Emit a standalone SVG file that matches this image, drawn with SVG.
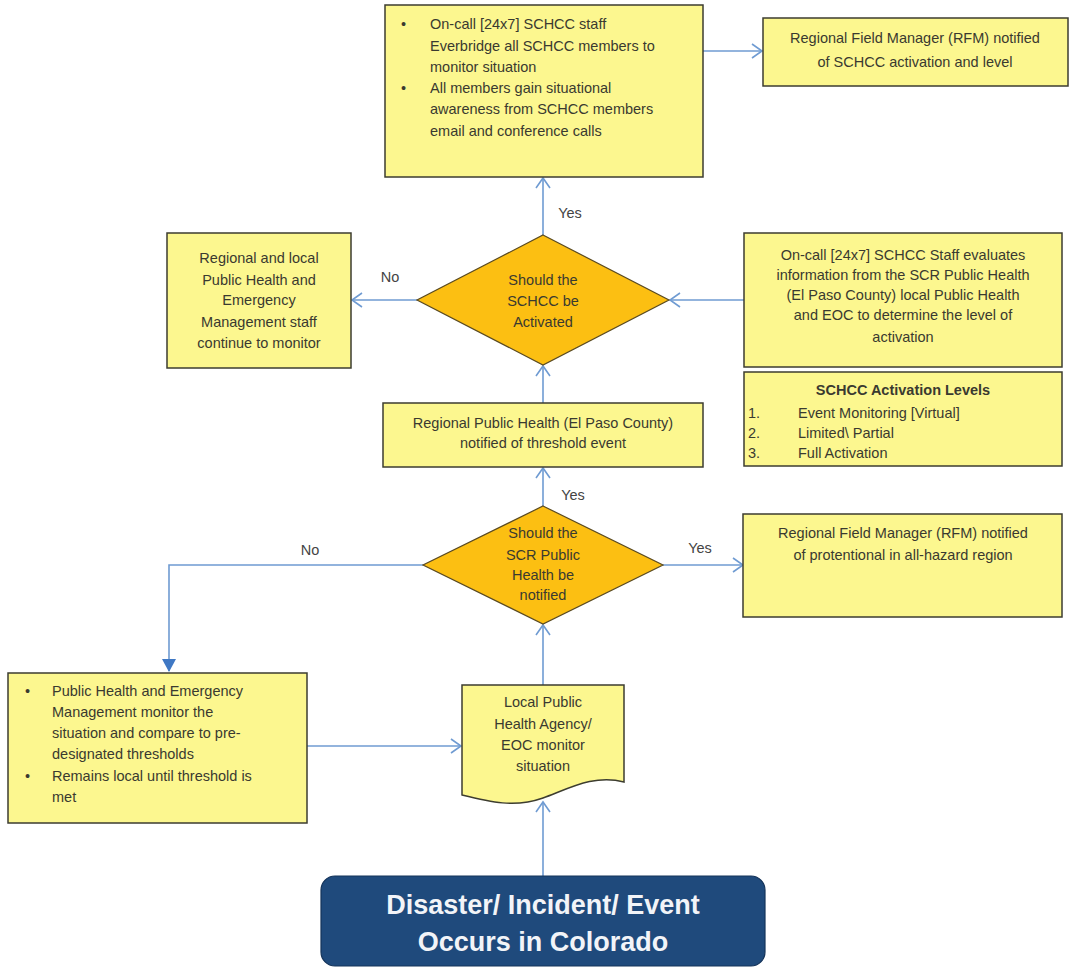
<svg xmlns="http://www.w3.org/2000/svg" width="1072" height="969" viewBox="0 0 1072 969">
<style>
.box{fill:#fcf78f;stroke:#3d3d30;stroke-width:1.5}
.dia{fill:#fcbf12;stroke:#5a4a20;stroke-width:1.2}
.t{font-family:"Liberation Sans",Arial,sans-serif;font-size:14.5px;fill:#3a3a30}
.c{text-anchor:middle}
.b{font-weight:bold}
.lab{font-family:"Liberation Sans",Arial,sans-serif;font-size:14.5px;fill:#444;text-anchor:middle}
.con{fill:none;stroke:#6f9bd2;stroke-width:1.6}
.big{font-family:"Liberation Sans",Arial,sans-serif;font-size:27px;font-weight:bold;fill:#f2f4f8;text-anchor:middle}
</style>
<defs>
<marker id="open" markerUnits="userSpaceOnUse" markerWidth="14" markerHeight="16" refX="11" refY="8" orient="auto" viewBox="0 0 14 16">
<path d="M1,1 L11,8 L1,15" fill="none" stroke="#6f9bd2" stroke-width="1.6"/>
</marker>
<marker id="fill" markerUnits="userSpaceOnUse" markerWidth="14" markerHeight="14" refX="12" refY="7" orient="auto" viewBox="0 0 14 14">
<path d="M0,0 L13,7 L0,14 Z" fill="#3f78c4"/>
</marker>
</defs>

<g id="connectors">
<line class="con" x1="543" y1="235" x2="543" y2="178" marker-end="url(#open)"/>
<line class="con" x1="703" y1="51" x2="762" y2="51" marker-end="url(#open)"/>
<line class="con" x1="417" y1="300" x2="352" y2="300" marker-end="url(#open)"/>
<line class="con" x1="744" y1="300" x2="670" y2="300" marker-end="url(#open)"/>
<line class="con" x1="543" y1="403" x2="543" y2="366" marker-end="url(#open)"/>
<line class="con" x1="543" y1="506" x2="543" y2="468" marker-end="url(#open)"/>
<line class="con" x1="663" y1="565" x2="743" y2="565" marker-end="url(#open)"/>
<path class="con" d="M423,565 H169 V671" marker-end="url(#fill)"/>
<line class="con" x1="307" y1="746" x2="461" y2="746" marker-end="url(#open)"/>
<line class="con" x1="543" y1="685" x2="543" y2="625" marker-end="url(#open)"/>
<line class="con" x1="543" y1="876" x2="543" y2="802" marker-end="url(#open)"/>
<text class="lab" x="570" y="218">Yes</text>
<text class="lab" x="390" y="282">No</text>
<text class="lab" x="573" y="500">Yes</text>
<text class="lab" x="700" y="553">Yes</text>
<text class="lab" x="310" y="555">No</text>
</g>

<g id="n-schcc-staff">
<rect class="box" x="385" y="5" width="318" height="172"/>
<text class="t" x="401" y="29">•</text>
<text class="t" x="430" y="29">On-call [24x7] SCHCC staff</text>
<text class="t" x="430" y="51">Everbridge all SCHCC members to</text>
<text class="t" x="430" y="72">monitor situation</text>
<text class="t" x="401" y="93">•</text>
<text class="t" x="430" y="93">All members gain situational</text>
<text class="t" x="430" y="114">awareness from SCHCC members</text>
<text class="t" x="430" y="136">email and conference calls</text>
</g>

<g id="n-rfm-activation">
<rect class="box" x="763" y="18" width="305" height="68"/>
<text class="t c" x="915" y="43">Regional Field Manager (RFM) notified</text>
<text class="t c" x="915" y="67">of SCHCC activation and level</text>
</g>

<g id="n-continue-monitor">
<rect class="box" x="167" y="233" width="184" height="135"/>
<text class="t c" x="259" y="263">Regional and local</text>
<text class="t c" x="259" y="285">Public Health and</text>
<text class="t c" x="259" y="305">Emergency</text>
<text class="t c" x="259" y="327">Management staff</text>
<text class="t c" x="259" y="348">continue to monitor</text>
</g>

<g id="n-dec-schcc">
<polygon class="dia" points="543,235 669,300 543,365 417,300"/>
<text class="t c" x="543" y="285">Should the</text>
<text class="t c" x="543" y="306">SCHCC be</text>
<text class="t c" x="543" y="327">Activated</text>
</g>

<g id="n-evaluate">
<rect class="box" x="744" y="233" width="318" height="134"/>
<text class="t c" x="903" y="260">On-call [24x7] SCHCC Staff evaluates</text>
<text class="t c" x="903" y="280">information from the SCR Public Health</text>
<text class="t c" x="903" y="300">(El Paso County) local Public Health</text>
<text class="t c" x="903" y="320">and EOC to determine the level of</text>
<text class="t c" x="903" y="342">activation</text>
</g>

<g id="n-levels">
<rect class="box" x="744" y="372" width="318" height="94"/>
<text class="t c b" x="903" y="395">SCHCC Activation Levels</text>
<text class="t" x="748" y="418">1.</text>
<text class="t" x="798" y="418">Event Monitoring [Virtual]</text>
<text class="t" x="748" y="438">2.</text>
<text class="t" x="798" y="438">Limited\ Partial</text>
<text class="t" x="748" y="458">3.</text>
<text class="t" x="798" y="458">Full Activation</text>
</g>

<g id="n-regional-ph">
<rect class="box" x="383" y="403" width="320" height="64"/>
<text class="t c" x="543" y="428">Regional Public Health (El Paso County)</text>
<text class="t c" x="543" y="448">notified of threshold event</text>
</g>

<g id="n-dec-scr">
<polygon class="dia" points="543,506 663,565 543,624 423,565"/>
<text class="t c" x="543" y="538">Should the</text>
<text class="t c" x="543" y="560">SCR Public</text>
<text class="t c" x="543" y="580">Health be</text>
<text class="t c" x="543" y="600">notified</text>
</g>

<g id="n-rfm-potential">
<rect class="box" x="743" y="514" width="319" height="103"/>
<text class="t c" x="903" y="538">Regional Field Manager (RFM) notified</text>
<text class="t c" x="903" y="560">of protentional in all-hazard region</text>
</g>

<g id="n-local-monitor">
<rect class="box" x="8" y="673" width="299" height="150"/>
<text class="t" x="25" y="696">•</text>
<text class="t" x="52" y="696">Public Health and Emergency</text>
<text class="t" x="52" y="717">Management monitor the</text>
<text class="t" x="52" y="738">situation and compare to pre-</text>
<text class="t" x="52" y="759">designated thresholds</text>
<text class="t" x="25" y="781">•</text>
<text class="t" x="52" y="781">Remains local until threshold is</text>
<text class="t" x="52" y="802">met</text>
</g>

<g id="n-local-agency">
<path class="box" d="M462,685 H624 V782 C595,774 570,788 543,798 C515,808 490,802 462,795 Z"/>
<text class="t c" x="543" y="707">Local Public</text>
<text class="t c" x="543" y="729">Health Agency/</text>
<text class="t c" x="543" y="750">EOC monitor</text>
<text class="t c" x="543" y="771">situation</text>
</g>

<g id="n-disaster">
<rect x="321" y="876" width="444" height="90" rx="14" ry="14" fill="#1f4a7c" stroke="#15345a" stroke-width="1.2"/>
<text class="big" x="543" y="914">Disaster/ Incident/ Event</text>
<text class="big" x="543" y="951">Occurs in Colorado</text>
</g>
</svg>
